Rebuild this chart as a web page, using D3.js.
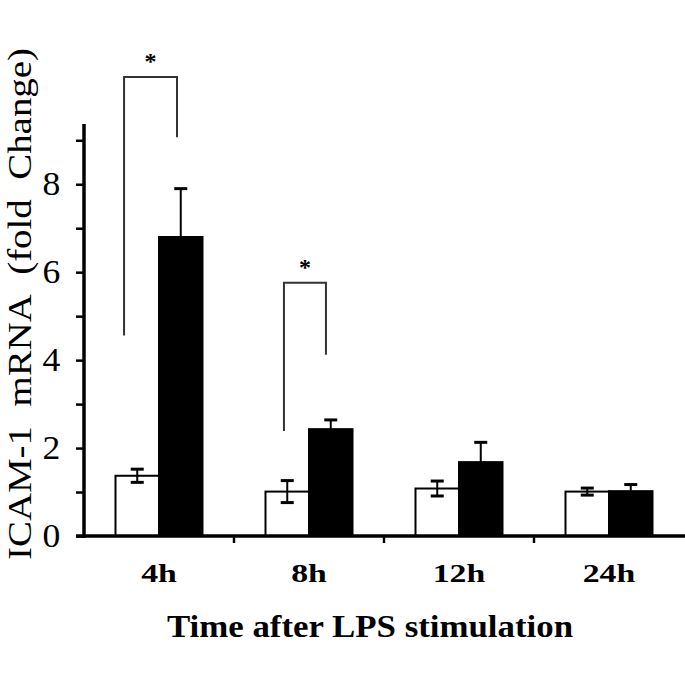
<!DOCTYPE html>
<html>
<head>
<meta charset="utf-8">
<script src="https://cdn.jsdelivr.net/npm/d3@7"></script>
<style>
html,body{margin:0;padding:0;background:#fff;}
svg{display:block;}
</style>
</head>
<body>
<svg id="chart" width="685" height="685"></svg>
<script>
// ---- data ----
const categories = ["4h", "8h", "12h", "24h"];
const series = ["control", "LPS"];
const controlValues = [1.37, 1.01, 1.08, 1.01];
const controlErrors = [0.15, 0.25, 0.17, 0.08];
const lpsValues = [6.80, 2.43, 1.68, 1.02];
const lpsErrors = [1.10, 0.21, 0.45, 0.15];
const yTickValues = [0, 1, 2, 3, 4, 5, 6, 7, 8, 9];
const yTickLabels = ["0", "", "2", "", "4", "", "6", "", "8", ""];
// significance brackets: group, top value, left leg bottom, right leg bottom
const bracketGroups = ["4h", "8h"];
const bracketTop = [10.44, 5.76];
const bracketLeftBottom = [4.56, 2.39];
const bracketRightBottom = [9.07, 4.12];
const yTitle = "ICAM-1\u00A0\u00A0mRNA\u00A0\u00A0(fold\u00A0\u00A0Change)";
const xTitle = "Time after LPS stimulation";

// ---- layout ----
const svg = d3.select("#chart");
const x0 = 84, x1 = 684, yBase = 536, yTop = 124;
const y = d3.scaleLinear().domain([0, 9.37]).range([yBase, yTop]);
const x = d3.scaleBand().domain(categories).range([x0, x1]).paddingInner(0).paddingOuter(0);
const xs = d3.scaleBand().domain(series).range([0, x.bandwidth()]).paddingInner(0).paddingOuter(0.724);
const serif = "'Liberation Serif', 'Times New Roman', serif";
const bracketFrac = [[0.267, 0.62], [0.333, 0.613]];

// bars
const rows = categories.map((c, i) => [
  {cat: c, s: "control", v: controlValues[i], e: controlErrors[i]},
  {cat: c, s: "LPS", v: lpsValues[i], e: lpsErrors[i]}
]).flat();

svg.append("g").selectAll("rect").data(rows).join("rect")
  .attr("x", d => x(d.cat) + xs(d.s))
  .attr("y", d => y(d.v))
  .attr("width", xs.bandwidth())
  .attr("height", d => y(0) - y(d.v))
  .attr("fill", d => d.s === "control" ? "#fff" : "#000")
  .attr("stroke", "#000")
  .attr("stroke-width", 2);

// error bars
const capW = 13;
const eg = svg.append("g").attr("stroke", "#000").attr("stroke-width", 2);
rows.forEach(d => {
  const cx = x(d.cat) + xs(d.s) + xs.bandwidth() / 2;
  const lo = d.s === "control" ? d.v - d.e : d.v;
  const hi = d.v + d.e;
  eg.append("line").attr("x1", cx).attr("x2", cx).attr("y1", y(lo)).attr("y2", y(hi));
  eg.append("line").attr("x1", cx - capW / 2).attr("x2", cx + capW / 2).attr("y1", y(hi)).attr("y2", y(hi)).attr("stroke-width", 3);
  if (d.s === "control")
    eg.append("line").attr("x1", cx - capW / 2).attr("x2", cx + capW / 2).attr("y1", y(lo)).attr("y2", y(lo)).attr("stroke-width", 3);
});

// y axis
const yAxis = d3.axisLeft(y).tickValues(yTickValues).tickSize(8).tickFormat((d, i) => yTickLabels[i]);
const yg = svg.append("g").attr("transform", `translate(${x0},0)`).call(yAxis);
yg.select(".domain").remove();
yg.selectAll(".tick line").attr("stroke-width", 2.5);
yg.selectAll(".tick text").attr("x", -22).attr("font-family", serif).attr("font-size", 33).attr("fill", "#000")
  .attr("transform", "scale(1.08,1)");
svg.append("line").attr("x1", x0).attr("x2", x0).attr("y1", y(0) + 2).attr("y2", y.range()[1])
  .attr("stroke", "#000").attr("stroke-width", 3.5);

// x axis
svg.append("line").attr("x1", x0 - 8).attr("x2", 685).attr("y1", y(0)).attr("y2", y(0))
  .attr("stroke", "#000").attr("stroke-width", 3.5);
const xt = svg.append("g");
categories.slice(1).forEach(c => {
  xt.append("line").attr("x1", x(c)).attr("x2", x(c)).attr("y1", y(0)).attr("y2", y(0) + 7)
    .attr("stroke", "#000").attr("stroke-width", 2.5);
});
svg.append("g").selectAll("text").data(categories).join("text")
  .attr("transform", d => `translate(${x(d) + x.bandwidth() / 2},582) scale(1.3,1)`)
  .attr("text-anchor", "middle")
  .attr("font-family", serif).attr("font-weight", "bold").attr("font-size", 26)
  .text(d => d);

// brackets
bracketGroups.forEach((g, i) => {
  const lx = x(g) + bracketFrac[i][0] * x.bandwidth();
  const rx = x(g) + bracketFrac[i][1] * x.bandwidth();
  svg.append("path")
    .attr("d", `M${lx},${y(bracketLeftBottom[i])}V${y(bracketTop[i])}H${rx}V${y(bracketRightBottom[i])}`)
    .attr("fill", "none").attr("stroke", "#333").attr("stroke-width", 2);
  svg.append("text").attr("x", (lx + rx) / 2).attr("y", y(bracketTop[i]) - 8)
    .attr("text-anchor", "middle").attr("font-family", serif).attr("font-weight", "bold")
    .attr("font-size", 24).text("*");
});

// titles
svg.append("text")
  .attr("transform", `translate(31,${(48 + 560) / 2}) rotate(-90)`)
  .attr("text-anchor", "middle")
  .attr("font-family", serif).attr("font-size", 34)
  .attr("textLength", 512).attr("lengthAdjust", "spacingAndGlyphs")
  .text(yTitle);
svg.append("text")
  .attr("x", 370).attr("y", 637)
  .attr("text-anchor", "middle")
  .attr("font-family", serif).attr("font-weight", "bold").attr("font-size", 32)
  .attr("textLength", 406).attr("lengthAdjust", "spacingAndGlyphs")
  .text(xTitle);
</script>
</body>
</html>
